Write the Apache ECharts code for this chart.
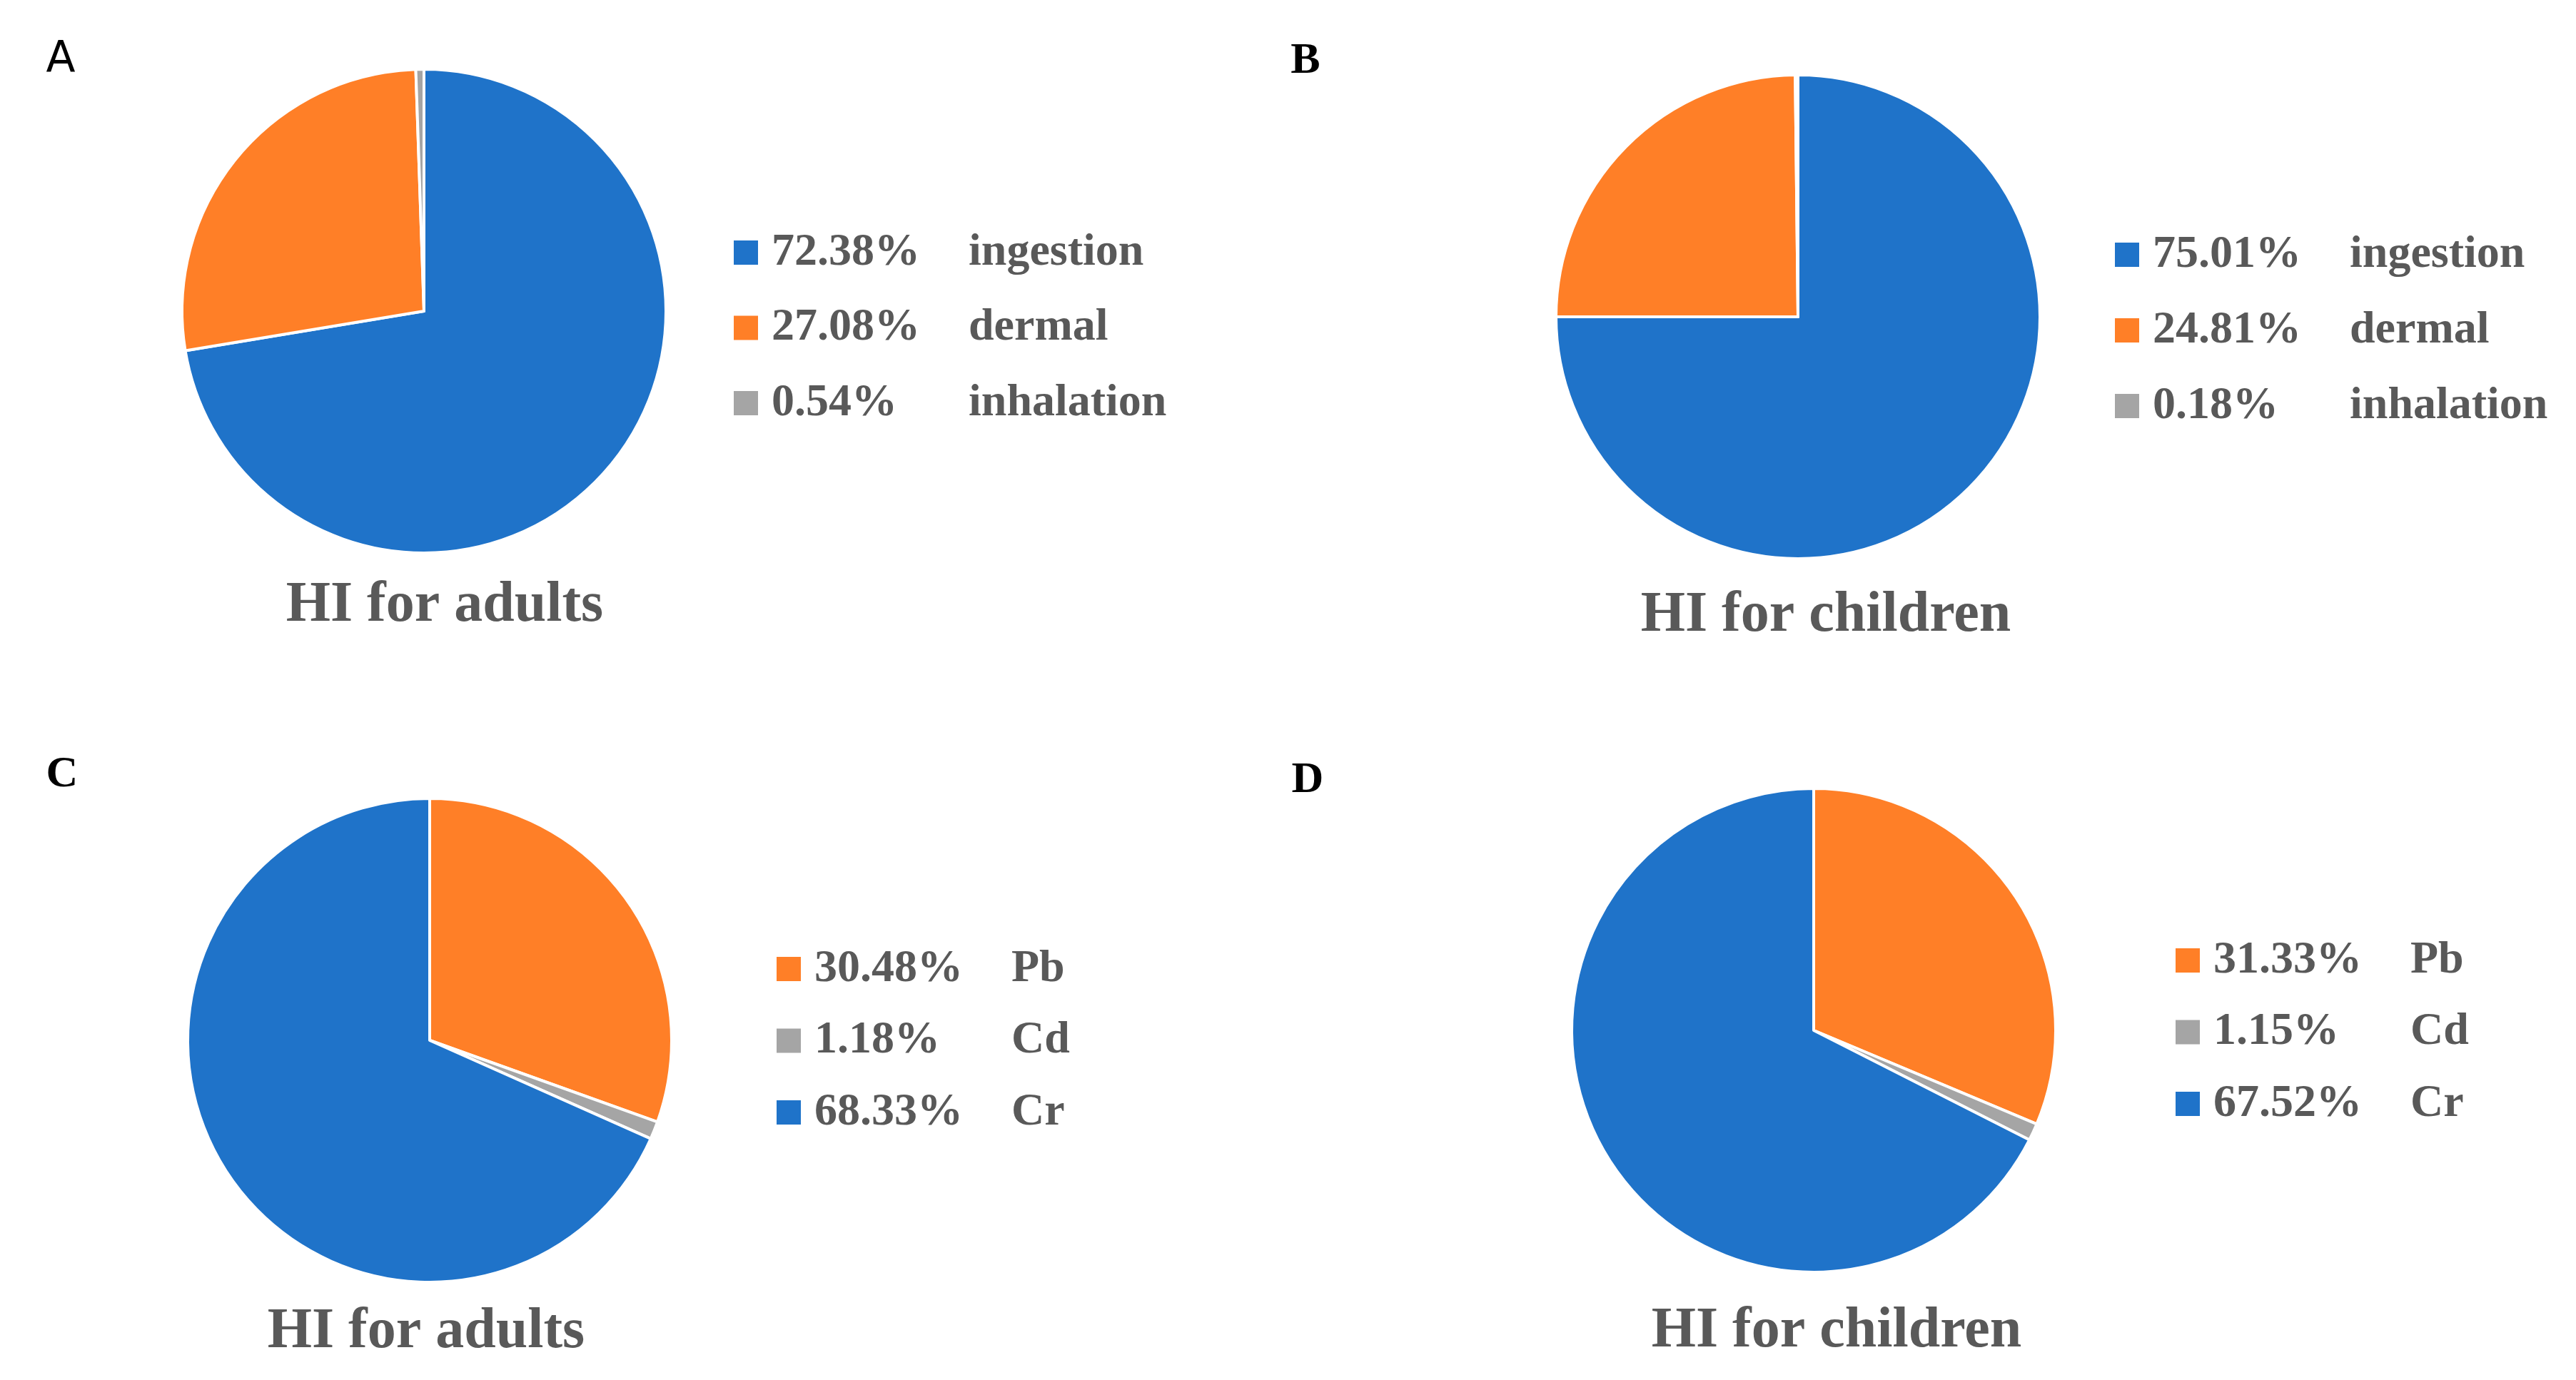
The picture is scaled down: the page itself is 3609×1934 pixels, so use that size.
<!DOCTYPE html>
<html>
<head>
<meta charset="utf-8">
<style>
html,body{margin:0;padding:0;background:#fff;}
#chart{width:3609px;height:1934px;}
</style>
<script src="https://cdn.jsdelivr.net/npm/echarts@6/dist/echarts.min.js"></script>
</head>
<body>
<div id="chart"></div>
<script>
// ---- data ----
const pathwayNames = ['ingestion', 'dermal', 'inhalation'];
const adultsPathway = [72.38, 27.08, 0.54];
const childrenPathway = [75.01, 24.81, 0.18];

const metalNames = ['Pb', 'Cd', 'Cr'];
const adultsMetal = [30.48, 1.18, 68.33];
const childrenMetal = [31.33, 1.15, 67.52];

const panelLetters = ['A', 'B', 'C', 'D'];
const panelTitles = ['HI for adults', 'HI for children', 'HI for adults', 'HI for children'];

// ---- styles ----
const BLUE = '#1F73C9', ORANGE = '#FF7F27', GRAY = '#A5A5A5';
const pathwayColors = [BLUE, ORANGE, GRAY];
const metalColors = [ORANGE, GRAY, BLUE];
const TXT = '#595959';
const SERIF = '"Liberation Serif", "Times New Roman", serif';

const panels = [
  { names: pathwayNames, values: adultsPathway, colors: pathwayColors,
    center: [594, 436], legend: { left: 1021, top: 350 - 33, gap: 41.5 },
    letter: { x: 85, y: 84, sans: true }, title: { x: 623, y: 849 } },
  { names: pathwayNames, values: childrenPathway, colors: pathwayColors,
    center: [2519, 444], legend: { left: 2956, top: 353 - 33, gap: 42 },
    letter: { x: 1829, y: 86 }, title: { x: 2558, y: 863 } },
  { names: metalNames, values: adultsMetal, colors: metalColors,
    center: [602, 1458], legend: { left: 1081, top: 1354 - 33, gap: 36.5 },
    letter: { x: 87, y: 1086 }, title: { x: 597, y: 1867 } },
  { names: metalNames, values: childrenMetal, colors: metalColors,
    center: [2541, 1444], legend: { left: 3041, top: 1342 - 33, gap: 36.5 },
    letter: { x: 1832, y: 1094 }, title: { x: 2573, y: 1866 } }
];

const series = panels.map((p, i) => ({
  type: 'pie',
  center: p.center,
  radius: 339,
  startAngle: 90,
  clockwise: true,
  silent: true,
  label: { show: false },
  labelLine: { show: false },
  itemStyle: { borderColor: '#ffffff', borderWidth: 4 },
  data: p.names.map((n, k) => ({ name: n, value: p.values[k], itemStyle: { color: p.colors[k] } }))
}));

const legends = panels.map((p, i) => ({
  orient: 'vertical',
  left: p.legend.left,
  top: p.legend.top,
  itemGap: p.legend.gap,
  itemWidth: 36,
  itemHeight: 36,
  itemTextGap: 5,
  icon: 'rect',
  selectedMode: false,
  data: p.names,
  formatter: function (name) {
    const k = p.names.indexOf(name);
    return '{p|' + p.values[k].toFixed(2) + '%}{n|' + name + '}';
  },
  textStyle: {
    rich: {
      p: { fontFamily: SERIF, fontWeight: 'bold', fontSize: 64, color: TXT, width: 276, lineHeight: 66, padding: [0, 0, 0, 13] },
      n: { fontFamily: SERIF, fontWeight: 'bold', fontSize: 64, color: TXT, lineHeight: 66 }
    }
  }
}));

const graphics = [];
panels.forEach((p, i) => {
  graphics.push({
    type: 'text', x: p.letter.x, y: p.letter.y,
    style: {
      text: panelLetters[i],
      fill: '#000',
      font: 'normal 60px "Liberation Sans", Arial, sans-serif',
      textAlign: 'center', textVerticalAlign: 'middle'
    }
  });
  graphics[graphics.length - 1].style.font = p.letter.sans
    ? 'normal 60px "DejaVu Sans", "Liberation Sans", sans-serif'
    : 'bold 62px ' + SERIF;
  graphics.push({
    type: 'text', x: p.title.x, y: p.title.y,
    style: {
      text: panelTitles[i],
      fill: TXT,
      font: 'bold 80px ' + SERIF,
      textAlign: 'center', textVerticalAlign: 'middle'
    }
  });
});

const chart = echarts.init(document.getElementById('chart'), null, { renderer: 'canvas' });
chart.setOption({
  backgroundColor: '#ffffff',
  animation: false,
  legend: legends,
  series: series,
  graphic: graphics
});
</script>
</body>
</html>
